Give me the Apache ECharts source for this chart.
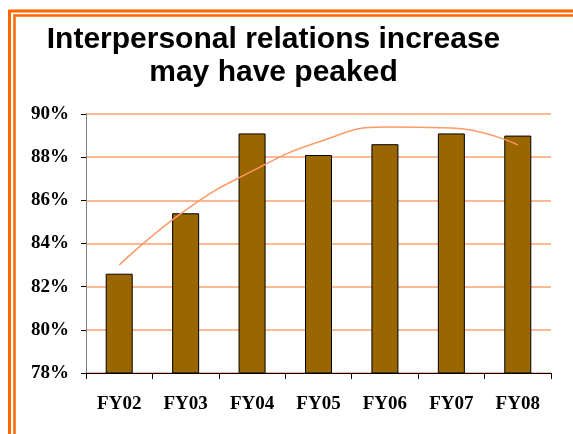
<!DOCTYPE html>
<html>
<head>
<meta charset="utf-8">
<script src="https://cdn.jsdelivr.net/npm/echarts@6/dist/echarts.min.js"></script>
<style>
  html, body { margin: 0; padding: 0; background: #fff; }
  #vis { width: 573px; height: 434px; }
</style>
</head>
<body>
<div id="vis"></div>
<script>
const categories = ['FY02', 'FY03', 'FY04', 'FY05', 'FY06', 'FY07', 'FY08']
const shares = [82.6, 85.4, 89.1, 88.1, 88.6, 89.1, 89.0]
// trendline, one point per fiscal year
const trend = [83.0, 85.55, 87.35, 88.7, 89.4, 89.35, 88.57]
const yTicks = { min: 78, max: 90, step: 2 }
const titleLines = ['Interpersonal relations increase', 'may have peaked']

const labelFont = 'Liberation Serif, Times New Roman, serif'

const chart = echarts.init(document.getElementById('vis'), null, { renderer: 'canvas' })

const options = {
  backgroundColor: '#ffffff',
  animation: false,
  graphic: [
    // double orange frame, cut off at right and bottom like the slide
    {
      type: 'rect',
      shape: { x: 9.5, y: 11, width: 700, height: 600 },
      style: { fill: 'none', stroke: '#ff6600', lineWidth: 3 }
    },
    {
      type: 'rect',
      shape: { x: 14.5, y: 15.5, width: 700, height: 600 },
      style: { fill: 'none', stroke: '#ff6600', lineWidth: 2.5 }
    },
    {
      type: 'text',
      x: 273.5,
      y: 23,
      style: {
        text: titleLines.join('\n'),
        font: 'bold 30px "Liberation Sans", Arial, sans-serif',
        lineHeight: 33,
        fill: '#000',
        align: 'center',
        verticalAlign: 'top'
      }
    }
  ],
  grid: { left: 86, right: 22, top: 114, bottom: 61 },
  xAxis: {
    type: 'category',
    data: categories,
    boundaryGap: true,
    axisLine: { lineStyle: { color: '#000', width: 1 } },
    axisTick: { show: true, length: 6, lineStyle: { color: '#000' } },
    axisLabel: {
      margin: 22,
      color: '#000',
      fontFamily: labelFont,
      fontWeight: 'bold',
      fontSize: 19
    }
  },
  yAxis: {
    type: 'value',
    min: yTicks.min,
    max: yTicks.max,
    interval: yTicks.step,
    axisLine: { show: true, lineStyle: { color: '#808080', width: 1 } },
    axisTick: { show: true, length: 5, lineStyle: { color: '#000' } },
    splitLine: { lineStyle: { color: '#ffa070', width: 1.5 } },
    axisLabel: {
      formatter: '{value}%',
      margin: 17,
      color: '#000',
      fontFamily: labelFont,
      fontWeight: 'bold',
      fontSize: 19
    }
  },
  series: [
    {
      type: 'bar',
      data: shares,
      barWidth: 27,
      itemStyle: { color: '#996600', borderColor: '#000', borderWidth: 1 }
    },
    {
      type: 'line',
      data: trend,
      smooth: true,
      showSymbol: false,
      lineStyle: { color: '#ff9966', width: 1.5 },
      z: 3
    }
  ]
}

chart.setOption(options)
</script>
</body>
</html>
